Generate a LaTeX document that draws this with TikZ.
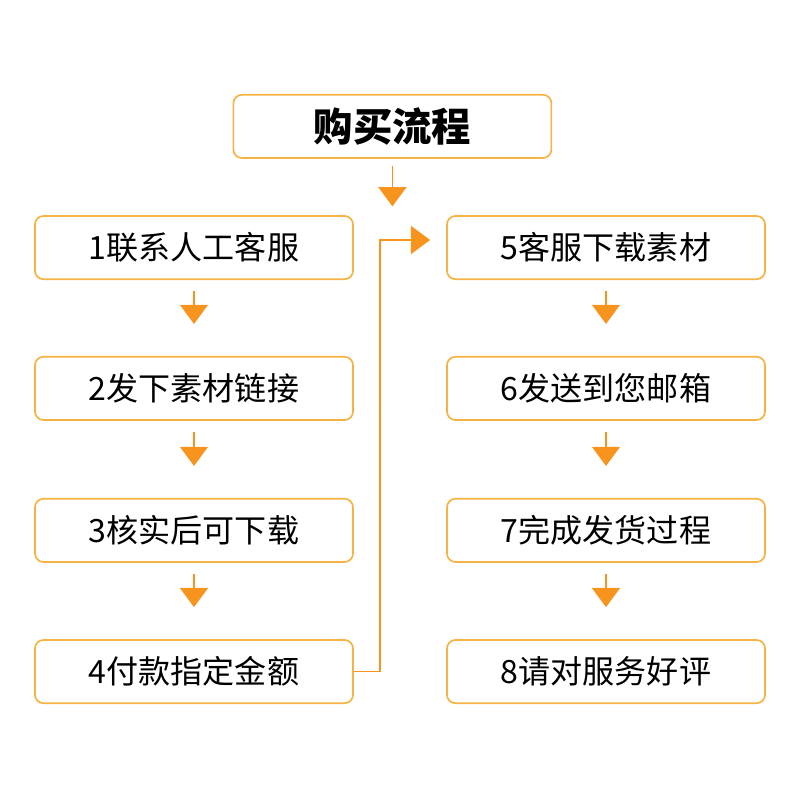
\documentclass[tikz,border=0pt]{standalone}
\usepackage{fontspec}
\setmainfont{Noto Sans CJK SC}
\usetikzlibrary{arrows.meta,calc}
\definecolor{boxline}{HTML}{F5B343}
\definecolor{arrcol}{HTML}{F7941D}
\begin{document}
\begin{tikzpicture}[
  stepbox/.style={rectangle, draw=boxline, line width=1.2pt, rounded corners=6pt,
                  minimum width=7.95cm, minimum height=1.58cm, align=center,
                  font=\fontsize{22.8}{26}\selectfont},
  arr/.style={-{Triangle[width=0.7cm,length=0.48cm]}, draw=arrcol, line width=1.1pt},
]
\useasboundingbox (0,0) rectangle (20,20);

% title
\node[stepbox, font=\fontsize{28}{32}\selectfont\bfseries] (title) at (9.81, 16.84) {购买流程};

% left column
\node[stepbox] (s1) at (4.85, 13.81) {1联系人工客服};
\node[stepbox] (s2) at (4.85, 10.29) {2发下素材链接};
\node[stepbox] (s3) at (4.85, 6.74)  {3核实后可下载};
\node[stepbox] (s4) at (4.85, 3.21)  {4付款指定金额};

% right column
\node[stepbox] (s5) at (15.15, 13.81) {5客服下载素材};
\node[stepbox] (s6) at (15.15, 10.29) {6发送到您邮箱};
\node[stepbox] (s7) at (15.15, 6.74)  {7完成发货过程};
\node[stepbox] (s8) at (15.15, 3.21)  {8请对服务好评};

% arrows
\coordinate (tend) at ($(title.south |- s5.north)+(0,0.22)$);
\draw[arr] ([yshift=-0.18cm]title.south) -- (tend);
\foreach \a/\b in {s1/s2, s2/s3, s3/s4, s5/s6, s6/s7, s7/s8}
  \draw[arr] ([yshift=-0.28cm]\a.south) -- ([yshift=0.8cm]\b.north);

% link from 4 to 5
\coordinate (turn) at (9.5, 14.0);
\draw[arr] (s4.east) -| (turn) -- ([xshift=-0.4cm]s5.west |- turn);
\end{tikzpicture}
\end{document}
